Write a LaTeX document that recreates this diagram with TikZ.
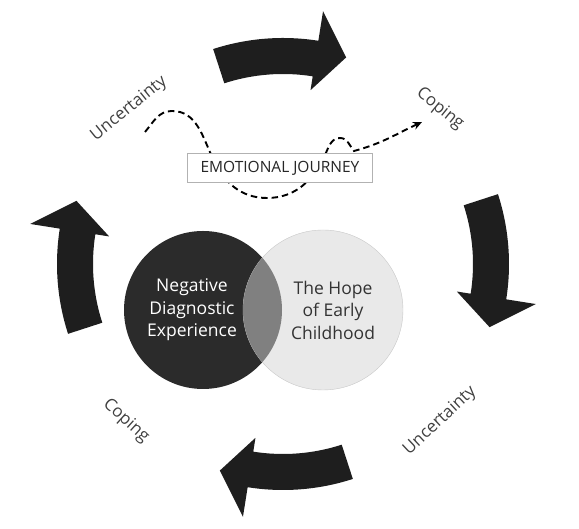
\documentclass[tikz,border=0pt]{standalone}
\usepackage{fontspec}
\setmainfont{Open Sans}
\usetikzlibrary{arrows.meta}
\definecolor{arrowblack}{HTML}{1E1E1E}
\definecolor{negfill}{HTML}{2B2B2B}
\definecolor{hopefill}{HTML}{E9E9E9}
\definecolor{hopeline}{HTML}{C8C8C8}
\definecolor{overlap}{HTML}{808080}
\definecolor{labelgray}{HTML}{404040}

\begin{document}
\begin{tikzpicture}[x=1pt, y=1pt,
  bigarrow/.style={fill=arrowblack},
  lbl/.style={font=\fontsize{17}{20}\selectfont, text=labelgray},
  venn/.style={align=center, font=\fontsize{17.5}{22.5}\selectfont},
  journey/.style={line width=1.9pt, dash pattern=on 6.5pt off 4pt, -{Stealth[length=9pt,width=8pt]}}
]
\useasboundingbox (0,0) rectangle (579,529);

% cycle arrows
\foreach \a [evaluate=\a as \b using \a-27, evaluate=\a as \c using \a-35] in {108,18,-72,198}
  \fill[bigarrow, shift={(283,265)}] (\a:190) arc[start angle=\a, end angle=\b, radius=190]
    -- (\b:176) -- (\c:216) -- (\b:256) -- (\b:226)
    arc[start angle=\b, end angle=\a, radius=226] -- cycle;

% venn circles
\node[circle, fill=negfill, minimum size=158pt, inner sep=0pt] (neg) at (203,219) {};
\node[circle, fill=hopefill, draw=hopeline, minimum size=160pt, inner sep=0pt] (hope) at (323,219) {};
\begin{scope}
  \clip (203,219) circle (79);
  \fill[overlap] (323,219) circle (80);
\end{scope}
\node[venn, text=white] (negtxt) at (192,219) {Negative\\Diagnostic\\Experience};
\node[venn, text=black!80] (hopetxt) at (333,219) {The Hope\\of Early\\Childhood};

% emotional journey
\draw[journey] (145,397) to[out=50,in=180] (172,418) to[out=0,in=115] (213,370)
  to[out=-65,in=180] (267,331) to[out=0,in=-115] (325,374)
  to[out=65,in=180] (340,391) to[out=0,in=130] (354,378)
  to[out=15,in=205] (422,407);
\node[draw=gray!60, fill=white, minimum width=185pt, minimum height=29pt,
  font=\fontsize{15.5}{18}\selectfont, text=black!85] (journey) at (280,361) {EMOTIONAL JOURNEY};

% labels
\node[lbl, rotate=39] (unc1) at (129,420) {Uncertainty};
\node[lbl, rotate=-39] (cop1) at (440,420) {Coping};
\node[lbl, rotate=-42] (cop2) at (126,108) {Coping};
\node[lbl, rotate=43] (unc2) at (440,108) {Uncertainty};
\end{tikzpicture}
\end{document}
